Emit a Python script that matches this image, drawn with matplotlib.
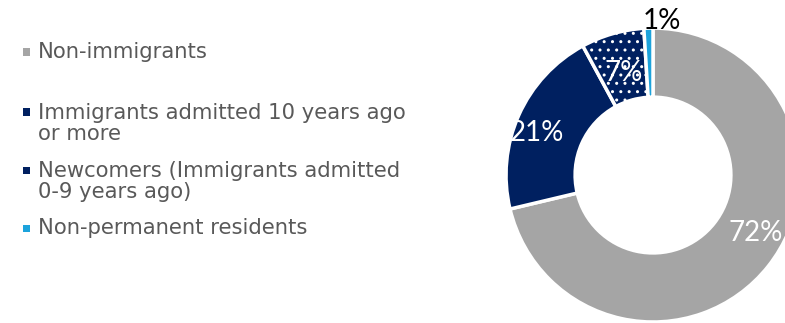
import numpy as np
import matplotlib.pyplot as plt

categories = ["Non-immigrants",
              "Immigrants admitted 10 years ago\nor more",
              "Newcomers (Immigrants admitted\n0-9 years ago)",
              "Non-permanent residents"]
shares = [72, 21, 7, 1]
pct_labels = ["72%", "21%", "7%", "1%"]
colors = ["#A5A5A5", "#002060", "#002060", "#1CA3DC"]
hatches = [None, None, "..", None]

plt.rcParams["hatch.color"] = "white"
plt.rcParams["hatch.linewidth"] = 1.0

fig = plt.figure(figsize=(7.85, 3.23), dpi=100)
ax = fig.add_axes([0.6446, 0.0031, 0.3745, 0.910])

wedges, _ = ax.pie(shares, colors=colors, startangle=90, counterclock=False,
                   radius=1, wedgeprops=dict(width=0.47, edgecolor="white", linewidth=2.5))
for w, h in zip(wedges, hatches):
    w.set_clip_on(False)
    if h:
        w.set_hatch(h)
ax.set_xlim(-1, 1)
ax.set_ylim(-1, 1)
ax.set_aspect("equal")
ax.axis("off")

label_r = [0.80, 0.84, 0.72, 1.05]
label_col = ["white", "white", "white", "black"]
shift = [9, 4, 0, -5]
for w, txt, r, c, s in zip(wedges, pct_labels, label_r, label_col, shift):
    ang = np.deg2rad((w.theta1 + w.theta2) / 2 + s)
    ax.text(r * np.cos(ang), r * np.sin(ang), txt, color=c, fontsize=20,
            family="Lato", ha="center", va="center", clip_on=False)

# legend
ys = [52, 123.5, 181.5, 228]
for cat, col, y in zip(categories, colors, ys):
    nlines = len(cat.split("\n"))
    top = y - 11.5 * (nlines - 1)
    fig.text(38 / 785, 1 - y / 323, cat, fontsize=15.2, color="#595959",
             va="center", ha="left", linespacing=1.08, family="DejaVu Sans")
    sq = plt.Rectangle((23 / 785, 1 - (top + 3.5) / 323), 7 / 785, 7 / 323,
                       transform=fig.transFigure, facecolor=col, edgecolor="none")
    fig.patches.append(sq)

fig.savefig("out.png", dpi=100)
